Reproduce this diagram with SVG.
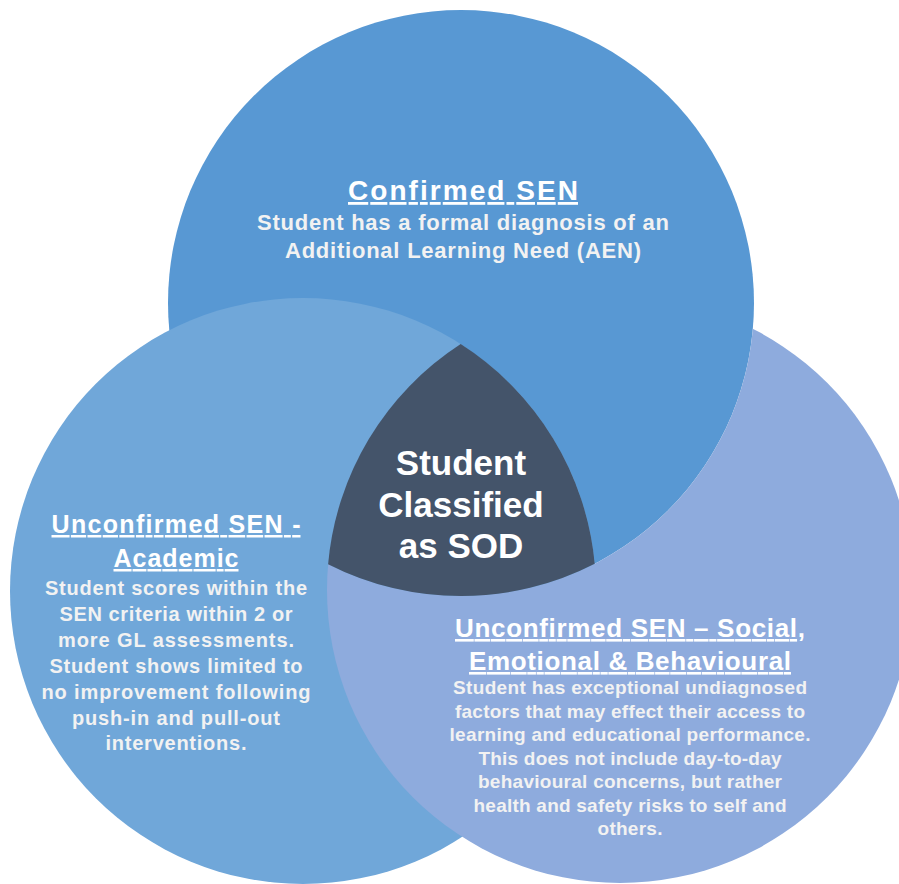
<svg xmlns="http://www.w3.org/2000/svg" width="899" height="884" viewBox="0 0 899 884">
  <style>
    .h { font-family: "Liberation Sans", Arial, sans-serif; font-weight: bold; fill: #ffffff; text-decoration: underline; text-anchor: middle; }
    .b { font-family: "Liberation Sans", Arial, sans-serif; font-weight: bold; fill: #f2f2f2; text-anchor: middle; }
    .c { font-family: "Liberation Sans", Arial, sans-serif; font-weight: bold; fill: #ffffff; text-anchor: middle; font-size: 35px; }
  </style>
  <defs>
    <mask id="outsideTop" maskUnits="userSpaceOnUse" x="0" y="0" width="899" height="884">
      <rect x="0" y="0" width="899" height="884" fill="#fff"/>
      <circle cx="461" cy="303" r="293" fill="#000"/>
    </mask>
  </defs>
  <rect x="0" y="0" width="899" height="884" fill="#ffffff"/>

  <g id="node-confirmed-sen">
    <circle cx="461" cy="303" r="293" fill="#5898d3"/>
    <text class="h" x="463" y="200" font-size="28" textLength="230" lengthAdjust="spacing">Confirmed SEN</text>
    <text class="b" x="463" y="230" font-size="22" textLength="412" lengthAdjust="spacing">Student has a formal diagnosis of an</text>
    <text class="b" x="463" y="258" font-size="22" textLength="356" lengthAdjust="spacing">Additional Learning Need (AEN)</text>
  </g>

  <g id="node-unconfirmed-academic">
    <circle cx="303" cy="591" r="293" fill="#70a7d9"/>
    <text class="h" x="176" y="533" font-size="25" textLength="249" lengthAdjust="spacing">Unconfirmed SEN -</text>
    <text class="h" x="176" y="567" font-size="25" textLength="125" lengthAdjust="spacing">Academic</text>
    <text class="b" x="176" y="595" font-size="20" textLength="262" lengthAdjust="spacing">Student scores within the</text>
    <text class="b" x="176" y="621" font-size="20" textLength="233" lengthAdjust="spacing">SEN criteria within 2 or</text>
    <text class="b" x="176" y="647" font-size="20" textLength="236" lengthAdjust="spacing">more GL assessments.</text>
    <text class="b" x="176" y="673" font-size="20" textLength="253" lengthAdjust="spacing">Student shows limited to</text>
    <text class="b" x="176" y="699" font-size="20" textLength="269" lengthAdjust="spacing">no improvement following</text>
    <text class="b" x="176" y="725" font-size="20" textLength="208" lengthAdjust="spacing">push-in and pull-out</text>
    <text class="b" x="176" y="750" font-size="20" textLength="141" lengthAdjust="spacing">interventions.</text>
  </g>

  <g id="node-unconfirmed-seb">
    <circle cx="620" cy="590" r="293" fill="#8eabdd" mask="url(#outsideTop)"/>
    <text class="h" x="630" y="637" font-size="26" textLength="350" lengthAdjust="spacing">Unconfirmed SEN – Social,</text>
    <text class="h" x="630" y="670" font-size="26" textLength="322" lengthAdjust="spacing">Emotional &amp; Behavioural</text>
    <text class="b" x="630" y="694" font-size="19" textLength="354" lengthAdjust="spacing">Student has exceptional undiagnosed</text>
    <text class="b" x="630" y="718" font-size="19" textLength="350" lengthAdjust="spacing">factors that may effect their access to</text>
    <text class="b" x="630" y="741" font-size="19" textLength="361" lengthAdjust="spacing">learning and educational performance.</text>
    <text class="b" x="630" y="765" font-size="19" textLength="303" lengthAdjust="spacing">This does not include day-to-day</text>
    <text class="b" x="630" y="788" font-size="19" textLength="304" lengthAdjust="spacing">behavioural concerns, but rather</text>
    <text class="b" x="630" y="812" font-size="19" textLength="313" lengthAdjust="spacing">health and safety risks to self and</text>
    <text class="b" x="630" y="835" font-size="19" textLength="65" lengthAdjust="spacing">others.</text>
  </g>

  <g id="node-student-sod">
    <path d="M 460.7 344.1 A 293 293 0 0 0 328.1 564.2 A 293 293 0 0 0 594.7 563.7 A 293 293 0 0 0 460.7 344.1 Z" fill="#44546a"/>
    <text class="c" x="461" y="475">Student</text>
    <text class="c" x="461" y="517">Classified</text>
    <text class="c" x="461" y="558">as SOD</text>
  </g>

  <g id="connectors"></g>
</svg>
